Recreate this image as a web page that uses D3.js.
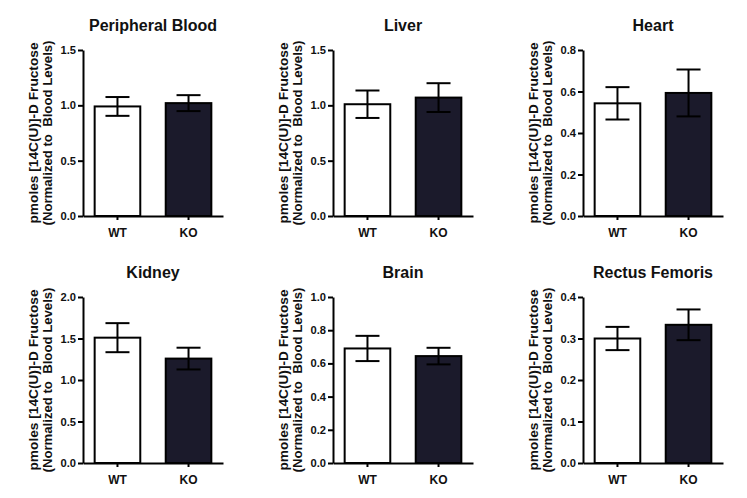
<!DOCTYPE html>
<html>
<head>
<meta charset="utf-8">
<script src="https://cdn.jsdelivr.net/npm/d3@7"></script>
<style>
  body { margin: 0; background: #fff; }
  svg { display: block; }
  text { font-family: "Liberation Sans", Arial, sans-serif; font-weight: bold; fill: #111; }
</style>
</head>
<body>
<svg id="chart" width="747" height="498"></svg>
<script>
const panels = ["Peripheral Blood", "Liver", "Heart", "Kidney", "Brain", "Rectus Femoris"];
const groups = ["WT", "KO"];
const wtMean = [0.99, 1.01, 0.543, 1.51, 0.69, 0.300];
const wtErr  = [0.085, 0.124, 0.078, 0.175, 0.076, 0.028];
const koMean = [1.02, 1.07, 0.593, 1.258, 0.644, 0.333];
const koErr  = [0.072, 0.13, 0.113, 0.131, 0.05, 0.037];
const yMax   = [1.5, 1.5, 0.8, 2.0, 1.0, 0.4];
const yStep  = [0.5, 0.5, 0.2, 0.5, 0.2, 0.1];
const fills  = ["#ffffff", "#1b1a2b"];
const yLabel = ["pmoles [14C(U)]-D Fructose", "(Normalized to  Blood Levels)"];
const yLabelLen = [181, 185];

const svg = d3.select("#chart");
const colOff = [0, 250, 500];
const rowTop = [50, 297];
const rowBottom = [216, 463];
const titleY = [31, 278];
const FONT = '"Liberation Sans", Arial, sans-serif';

panels.forEach((name, i) => {
  const c = i % 3, r = Math.floor(i / 3);
  const x0 = colOff[c] + 83, x1 = colOff[c] + 223;
  const yT = rowTop[r], yB = rowBottom[r];
  const g = svg.append("g");

  const x = d3.scaleBand().domain(groups).range([x0, x1]).paddingInner(0.33).paddingOuter(0.15);
  const y = d3.scaleLinear().domain([0, yMax[i]]).range([yB, yT]);
  const ticks = d3.range(0, yMax[i] + yStep[i] / 2, yStep[i]);

  const means = [wtMean[i], koMean[i]];
  const errs = [wtErr[i], koErr[i]];
  const data = groups.map((gname, k) => ({ g: gname, m: means[k], e: errs[k], f: fills[k] }));

  g.selectAll("rect.bar").data(data).enter().append("rect")
    .attr("x", d => x(d.g) + 1)
    .attr("y", d => y(d.m))
    .attr("width", x.bandwidth() - 2)
    .attr("height", d => y(0) - y(d.m))
    .attr("fill", d => d.f)
    .attr("stroke", "#000")
    .attr("stroke-width", 2);

  const cap = 12;
  data.forEach(d => {
    const cx = x(d.g) + x.bandwidth() / 2;
    g.append("line").attr("x1", cx).attr("x2", cx)
      .attr("y1", y(d.m - d.e)).attr("y2", y(d.m + d.e))
      .attr("stroke", "#000").attr("stroke-width", 2);
    [d.m - d.e, d.m + d.e].forEach(v => {
      g.append("line").attr("x1", cx - cap).attr("x2", cx + cap)
        .attr("y1", y(v)).attr("y2", y(v))
        .attr("stroke", "#000").attr("stroke-width", 2);
    });
  });

  const ya = g.append("g").attr("transform", `translate(${x0},0)`)
    .call(d3.axisLeft(y).tickValues(ticks).tickFormat(d3.format(".1f")).tickSize(5).tickSizeOuter(0).tickPadding(2));
  ya.select(".domain").attr("stroke", "#000").attr("stroke-width", 2);
  ya.selectAll(".tick line").attr("stroke", "#000").attr("stroke-width", 2);
  ya.selectAll(".tick text").style("font-size", "11px").style("font-weight", "bold")
    .style("font-family", FONT).attr("fill", "#111")
    .attr("textLength", 15.5).attr("lengthAdjust", "spacingAndGlyphs");

  const xa = g.append("g").attr("transform", `translate(0,${yB})`)
    .call(d3.axisBottom(x).tickSize(4).tickSizeOuter(0).tickPadding(8));
  xa.select(".domain").attr("stroke", "#000").attr("stroke-width", 2);
  xa.selectAll(".tick line").attr("stroke", "#000").attr("stroke-width", 2);
  xa.selectAll(".tick text").style("font-size", "12px").style("font-weight", "bold")
    .style("font-family", FONT).attr("fill", "#111");

  g.append("text").attr("x", (x0 + x1) / 2).attr("y", titleY[r])
    .attr("text-anchor", "middle").style("font-size", "16px").text(name);

  const cy = (yT + yB) / 2;
  yLabel.forEach((t, k) => {
    const lx = colOff[c] + 37.5 + k * 14.5;
    g.append("text")
      .attr("transform", `translate(${lx},${cy}) rotate(-90)`)
      .attr("text-anchor", "middle")
      .attr("xml:space", "preserve")
      .style("white-space", "pre")
      .style("font-size", "12.5px")
      .attr("textLength", yLabelLen[k])
      .attr("lengthAdjust", "spacingAndGlyphs")
      .text(t);
  });
});
</script>
</body>
</html>
